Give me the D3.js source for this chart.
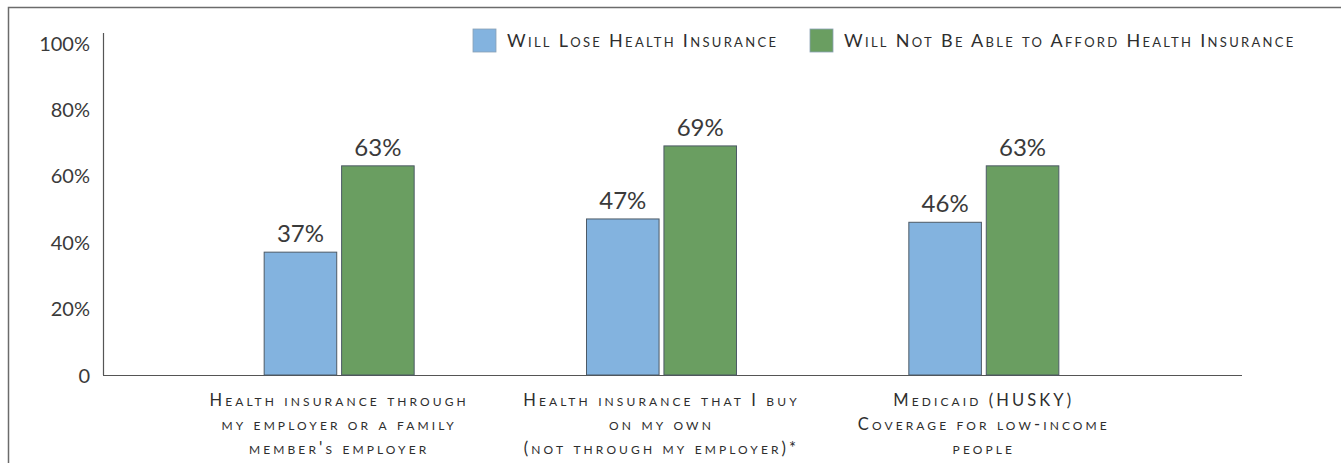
<!DOCTYPE html>
<html><head><meta charset="utf-8">
<script src="https://cdn.jsdelivr.net/npm/d3@7"></script>
<style>
html,body{margin:0;padding:0;background:#fff;}
svg{display:block;font-family:Lato,"Noto Sans",sans-serif;}
</style></head>
<body><svg id="c" width="1341" height="463"></svg>
<script>
const categories = [
  ["Health insurance through","my employer or a family","member's employer"],
  ["Health insurance that I buy","on my own","(not through my employer)*"],
  ["Medicaid (HUSKY)","Coverage for low-income","people"]
];
const seriesNames = ["Will Lose Health Insurance","Will Not Be Able to Afford Health Insurance"];
const loseValues = [37, 47, 46];
const affordValues = [63, 69, 63];
const yTicks = [0, 20, 40, 60, 80, 100];
const colors = ["#83b3df", "#6a9e61"];

const svg = d3.select("#c");
const textColor = "#2e2e2e";
const numColor = "#3a3a3a";

// frame
svg.append("path").attr("d","M8.5,463 V7.5 H1341").attr("fill","none").attr("stroke","#6b6b6b").attr("stroke-width",1.5);

const y = d3.scaleLinear().domain([0,100]).range([375,43]);
const x0 = d3.scaleBand().domain(d3.range(categories.length)).range([178,1145]).paddingInner(0).paddingOuter(0);
const x1 = d3.scaleBand().domain([0,1]).range([0,151]).paddingInner(0.05);
const groupOffset = (x0.bandwidth()-151)/2;

// axes lines
svg.append("line").attr("x1",103.5).attr("x2",103.5).attr("y1",33).attr("y2",375).attr("stroke","#555").attr("stroke-width",1.2);
svg.append("line").attr("x1",103).attr("x2",1242).attr("y1",375.5).attr("y2",375.5).attr("stroke","#555").attr("stroke-width",1.2);

// y tick labels
const yAxis = d3.axisLeft(y).tickValues(yTicks).tickSize(0).tickPadding(0)
  .tickFormat(d => d === 0 ? "0" : d + "%");
const ya = svg.append("g").attr("transform","translate(90,0)").call(yAxis);
ya.select(".domain").remove();
ya.selectAll("text").attr("font-size",20).attr("fill",numColor).attr("font-family","Lato,sans-serif")
  .attr("font-weight",400).attr("dy","0.35em");

const data = categories.map((c,i)=>({i, vals:[loseValues[i], affordValues[i]]}));

const g = svg.selectAll("g.grp").data(data).join("g").attr("class","grp")
  .attr("transform", d => `translate(${x0(d.i)+groupOffset},0)`);

g.selectAll("rect").data(d => d.vals.map((v,k)=>({v,k}))).join("rect")
  .attr("x", d => x1(d.k)+0.5).attr("width", x1.bandwidth()-1)
  .attr("y", d => y(d.v)).attr("height", d => y(0)-y(d.v))
  .attr("fill", d => colors[d.k]).attr("stroke","#4d5a66").attr("stroke-width",1);

g.selectAll("text.val").data(d => d.vals.map((v,k)=>({v,k}))).join("text").attr("class","val")
  .attr("x", d => x1(d.k)+x1.bandwidth()/2).attr("y", d => y(d.v)-10)
  .attr("text-anchor","middle").attr("font-size",24).attr("font-weight",400).attr("fill",numColor)
  .text(d => d.v + "%");

// category labels
svg.selectAll("text.cat").data(categories).join("text").attr("class","cat")
  .attr("text-anchor","middle").attr("font-size",16.5).attr("fill",textColor)
  .style("font-variant","small-caps").style("letter-spacing","3.1px")
  .attr("transform",(d,i)=>`translate(${x0(i)+x0.bandwidth()/2},0)`)
  .selectAll("tspan").data(d=>d).join("tspan")
  .attr("x",0).attr("y",(d,j)=>406+j*24).text(d=>d);

// legend
const legendX = [473, 810];
const lg = svg.selectAll("g.leg").data(seriesNames).join("g").attr("class","leg")
  .attr("transform",(d,i)=>`translate(${legendX[i]},29)`);
lg.append("rect").attr("width",23).attr("height",23).attr("fill",(d,i)=>colors[i]).attr("stroke","#8aa0b4").attr("stroke-width",0.8);
lg.append("text").attr("x",34).attr("y",18).attr("font-size",18).attr("fill",textColor)
  .style("font-variant","small-caps").style("letter-spacing","2.3px").text(d=>d);
</script></body></html>
